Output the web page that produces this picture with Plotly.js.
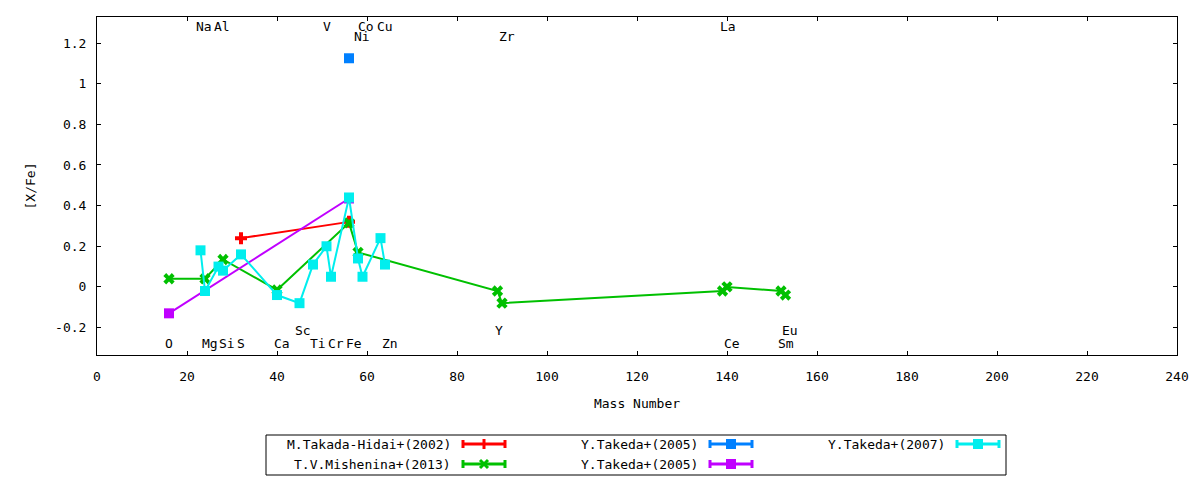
<!DOCTYPE html>
<html>
<head>
<meta charset="utf-8">
<script src="https://cdn.plot.ly/plotly-3.0.1.min.js"></script>
<style>
  body { margin: 0; background: #fff; }
  #chart { width: 1200px; height: 480px; }
</style>
</head>
<body>
<div id="chart"></div>
<script>
// abundance data, [X/Fe] against mass number
const takadaX = [32, 56];
const takadaY = [0.24, 0.32];

const misheninaX = [16, 24, 28, 40, 56, 58, 89, 90, 139, 140, 152, 153];
const misheninaY = [0.04, 0.04, 0.135, -0.015, 0.315, 0.17, -0.02, -0.08, -0.02, 0.0, -0.02, -0.04];

const takeda05aX = [56];
const takeda05aY = [1.125];

const takeda05bX = [16, 56];
const takeda05bY = [-0.13, 0.435];

const takeda07X = [23, 24, 27, 28, 32, 40, 45, 48, 51, 52, 56, 58, 59, 63, 64];
const takeda07Y = [0.18, -0.02, 0.10, 0.08, 0.16, -0.04, -0.08, 0.11, 0.20, 0.05, 0.44, 0.14, 0.05, 0.24, 0.11];

// element labels
const elemNames = ['Na', 'Al', 'V', 'Co', 'Cu', 'La', 'Ni', 'Zr',
                   'Sc', 'Y', 'Eu',
                   'O', 'Mg', 'Si', 'S', 'Ca', 'Ti', 'Cr', 'Fe', 'Zn', 'Ce', 'Sm'];
const elemX = [23.8, 27.8, 51.1, 59.8, 64.0, 140.2, 58.9, 91.1,
               45.8, 89.3, 154.0,
               16.0, 25.1, 28.9, 32.0, 41.0, 49.1, 53.0, 57.1, 65.0, 141.1, 153.1];
const elemY = [1.28, 1.28, 1.28, 1.28, 1.28, 1.28, 1.234, 1.234,
               -0.215, -0.215, -0.215,
               -0.28, -0.28, -0.28, -0.28, -0.28, -0.28, -0.28, -0.28, -0.28, -0.28, -0.28];

const xTicks = [0, 20, 40, 60, 80, 100, 120, 140, 160, 180, 200, 220, 240];
const yTicks = [-0.2, 0, 0.2, 0.4, 0.6, 0.8, 1, 1.2];
const yTickText = ['-0.2', '0', '0.2', '0.4', '0.6', '0.8', '1', '1.2'];

const legendNames = ['M.Takada-Hidai+(2002)', 'T.V.Mishenina+(2013)', 'Y.Takeda+(2005)',
                     'Y.Takeda+(2005)', 'Y.Takeda+(2007)'];
const colors = ['#ff0000', '#00c000', '#0080ff', '#c000ff', '#00eeee'];
const symbols = ['cross', 'x', 'square', 'square', 'square'];

const FONT = 'DejaVu Sans Mono';

function series(x, y, i) {
  return {
    x: x, y: y, type: 'scatter', mode: 'lines+markers',
    name: legendNames[i],
    line: { color: colors[i], width: 2 },
    marker: { color: colors[i], symbol: symbols[i], size: 10, line: { width: 0 } },
    showlegend: false
  };
}

const data = [
  series(takadaX, takadaY, 0),
  series(misheninaX, misheninaY, 1),
  series(takeda05aX, takeda05aY, 2),
  series(takeda05bX, takeda05bY, 3),
  series(takeda07X, takeda07Y, 4)
];

// plot area in pixels (gnuplot-like frame)
const L = 97, R = 23, T = 17, B = 125;
const W = 1200 - L - R, H = 480 - T - B;
const px = v => (v - L) / W;
const py = v => (480 - B - v) / H;

const annotations = elemNames.map((n, i) => ({
  x: elemX[i], y: elemY[i], xref: 'x', yref: 'y', text: n, showarrow: false,
  font: { family: FONT, size: 13, color: '#000' }
}));

// hand built legend: text on the left, line sample with caps on the right
const shapes = [{
  type: 'rect', xref: 'paper', yref: 'paper',
  x0: px(266), x1: px(1006), y0: py(435), y1: py(475),
  line: { color: '#000', width: 1 }
}];
const legendPos = [[453, 444], [453, 464], [700, 444], [700, 464], [947, 444]];

legendPos.forEach((p, i) => {
  const c = colors[i];
  const sx0 = p[0] + 10, sx1 = p[0] + 52, cx = (sx0 + sx1) / 2, cy = p[1];
  annotations.push({
    x: px(p[0]), y: py(cy), xref: 'paper', yref: 'paper',
    xanchor: 'right', yanchor: 'middle',
    text: legendNames[i], showarrow: false,
    font: { family: FONT, size: 13, color: '#000' }
  });
  const ln = (a, b, c2, d, w) => ({
    type: 'line', xref: 'paper', yref: 'paper',
    x0: px(a), y0: py(b), x1: px(c2), y1: py(d), line: { color: c, width: w }
  });
  shapes.push(ln(sx0, cy, sx1, cy, 3));
  shapes.push(ln(sx0, cy - 4, sx0, cy + 4, 3));
  shapes.push(ln(sx1, cy - 4, sx1, cy + 4, 3));
  if (symbols[i] === 'square') {
    shapes.push({
      type: 'rect', xref: 'paper', yref: 'paper',
      x0: px(cx - 5), x1: px(cx + 5), y0: py(cy - 5), y1: py(cy + 5),
      fillcolor: c, line: { width: 0 }
    });
  } else if (symbols[i] === 'cross') {
    shapes.push(ln(cx, cy - 5, cx, cy + 5, 3));
  } else {
    shapes.push(ln(cx - 4, cy - 4, cx + 4, cy + 4, 3));
    shapes.push(ln(cx - 4, cy + 4, cx + 4, cy - 4, 3));
  }
});

const axisCommon = {
  showline: true, linecolor: '#000', linewidth: 1, mirror: 'ticks',
  ticks: 'inside', ticklen: 4, tickcolor: '#000', tickwidth: 1,
  showgrid: false, zeroline: false,
  tickfont: { family: FONT, size: 13, color: '#000' }
};

const layout = {
  width: 1200, height: 480,
  margin: { l: L, r: R, t: T, b: B, pad: 0 },
  paper_bgcolor: '#fff', plot_bgcolor: '#fff',
  font: { family: FONT, size: 13, color: '#000' },
  xaxis: Object.assign({}, axisCommon, {
    range: [0, 240], tickvals: xTicks, ticktext: xTicks.map(String),
    ticklabelstandoff: 9,
    title: { text: 'Mass Number', font: { family: FONT, size: 13 }, standoff: 16 }
  }),
  yaxis: Object.assign({}, axisCommon, {
    range: [-0.335, 1.328], tickvals: yTicks, ticktext: yTickText,
    ticklabelstandoff: 7,
    title: { text: '[X/Fe]', font: { family: FONT, size: 13 }, standoff: 16 }
  }),
  annotations: annotations,
  shapes: shapes,
  showlegend: false
};

Plotly.newPlot('chart', data, layout, { displayModeBar: false, staticPlot: true });
</script>
</body>
</html>
